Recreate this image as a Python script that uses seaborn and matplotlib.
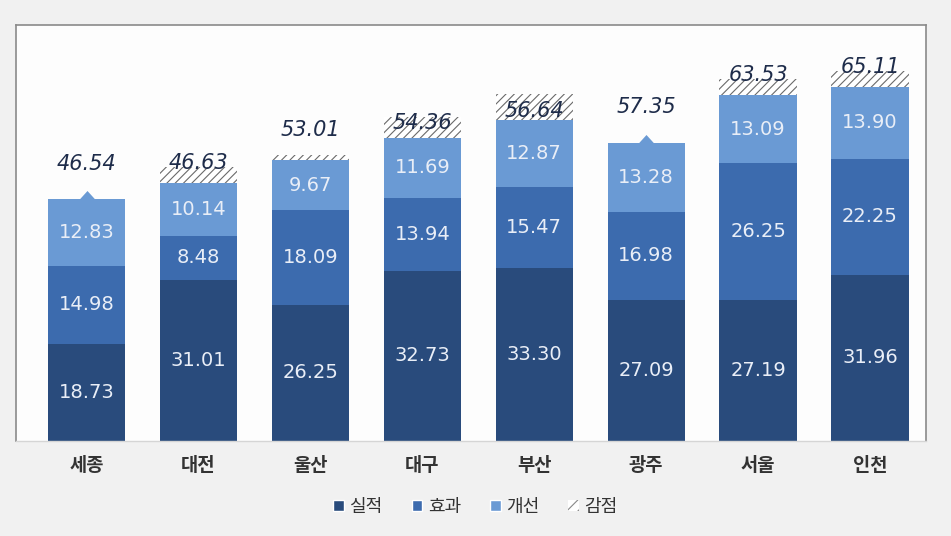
import numpy as np
import pandas as pd
import seaborn as sns
import matplotlib.pyplot as plt
from matplotlib.patches import Patch
from matplotlib.path import Path

regions = ['세종', '대전', '울산', '대구', '부산', '광주', '서울', '인천']
siljuk = [18.73, 31.01, 26.25, 32.73, 33.30, 27.09, 27.19, 31.96]
hyogwa = [14.98, 8.48, 18.09, 13.94, 15.47, 16.98, 26.25, 22.25]
gaeseon = [12.83, 10.14, 9.67, 11.69, 12.87, 13.28, 13.09, 13.90]
gamjeom = [0, 3, 1, 4, 5, 0, 3, 3]
totals = [46.54, 46.63, 53.01, 54.36, 56.64, 57.35, 63.53, 65.11]

c_dark = '#294b7c'
c_mid = '#3c6bae'
c_light = '#6a9ad4'

sns.set_style('white')
plt.rcParams['font.family'] = ['Noto Sans CJK KR', 'DejaVu Sans']
plt.rcParams['hatch.linewidth'] = 0.8

df = pd.DataFrame({'region': regions, 'siljuk': siljuk, 'hyogwa': hyogwa,
                   'gaeseon': gaeseon, 'gamjeom': gamjeom})
df['lvl1'] = df['siljuk']
df['lvl2'] = df['lvl1'] + df['hyogwa']
df['lvl3'] = df['lvl2'] + df['gaeseon']
df['lvl4'] = df['lvl3'] + df['gamjeom']

fig = plt.figure(figsize=(9.51, 5.36), dpi=100, facecolor='#f1f1f1')
ax = fig.add_axes([16 / 951, 95 / 536, 910 / 951, 416 / 536])
ax.set_facecolor('#fdfdfd')

w = 0.69
# cumulative layers drawn tallest first so each one covers the next
sns.barplot(data=df, x='region', y='lvl4', color='white', width=w, ax=ax,
            edgecolor='#6a6a6a', linewidth=0, hatch='////', saturation=1)
sns.barplot(data=df, x='region', y='lvl3', color=c_light, width=w, ax=ax,
            linewidth=0, saturation=1)
sns.barplot(data=df, x='region', y='lvl2', color=c_mid, width=w, ax=ax,
            linewidth=0, saturation=1)
sns.barplot(data=df, x='region', y='lvl1', color=c_dark, width=w, ax=ax,
            linewidth=0, saturation=1)

seg_kw = dict(ha='center', va='center', color='#e9eef7', fontsize=14,
              family='DejaVu Sans')
for i, r in df.iterrows():
    ax.text(i, r['lvl1'] / 2, f"{r['siljuk']:.2f}", **seg_kw)
    ax.text(i, (r['lvl1'] + r['lvl2']) / 2, f"{r['hyogwa']:.2f}", **seg_kw)
    ax.text(i, (r['lvl2'] + r['lvl3']) / 2, f"{r['gaeseon']:.2f}", **seg_kw)
    ax.text(i, totals[i] + 6.8, f"{totals[i]:.2f}", ha='center', va='center',
            color='#1e2c4a', fontsize=15, style='italic',
            family='DejaVu Sans')

# small pointer on top of bars without deduction
tri = Path([(-1, 0), (1, 0), (0, 1.1), (-1, 0)],
           [Path.MOVETO, Path.LINETO, Path.LINETO, Path.CLOSEPOLY])
nod = df[df['gamjeom'] == 0]
ax.scatter(nod.index, nod['lvl3'], marker=tri, s=150, color=c_light,
           linewidths=0, zorder=5)

ax.set_xlim(-0.63, 7.5)
ax.set_ylim(0, 80)
ax.set_yticks([])
ax.set_xlabel('')
ax.set_ylabel('')
ax.set_xticks(range(len(regions)))
ax.set_xticklabels(regions, fontsize=13.5, color='#333333', fontweight='bold',
                   family=['Noto Sans CJK KR', 'DejaVu Sans'])
ax.tick_params(axis='x', length=0, pad=11)
ax.set_xticks(np.arange(0.5, 7.5, 1), minor=True)
ax.tick_params(axis='x', which='minor', length=4, direction='in', color='#cccccc')

for s in ['top', 'left', 'right']:
    ax.spines[s].set_color('#8a8a8a')
    ax.spines[s].set_linewidth(1.2)
ax.spines['bottom'].set_color('#d5d5d5')
ax.spines['bottom'].set_linewidth(1)

handles = [Patch(facecolor=c_dark, label='실적'),
           Patch(facecolor=c_mid, label='효과'),
           Patch(facecolor=c_light, label='개선'),
           Patch(facecolor='white', edgecolor='#888888', hatch='///',
                 linewidth=0, label='감점')]
leg = fig.legend(handles=handles, loc='center', bbox_to_anchor=(0.5, 0.054),
                 ncol=4, frameon=False, handlelength=0.6, handleheight=0.6,
                 handletextpad=0.3, columnspacing=1.6,
                 prop={'family': ['Noto Sans CJK KR', 'DejaVu Sans'], 'size': 13})
for t in leg.get_texts():
    t.set_color('#333333')

fig.savefig('out.png', dpi=100, facecolor=fig.get_facecolor())
